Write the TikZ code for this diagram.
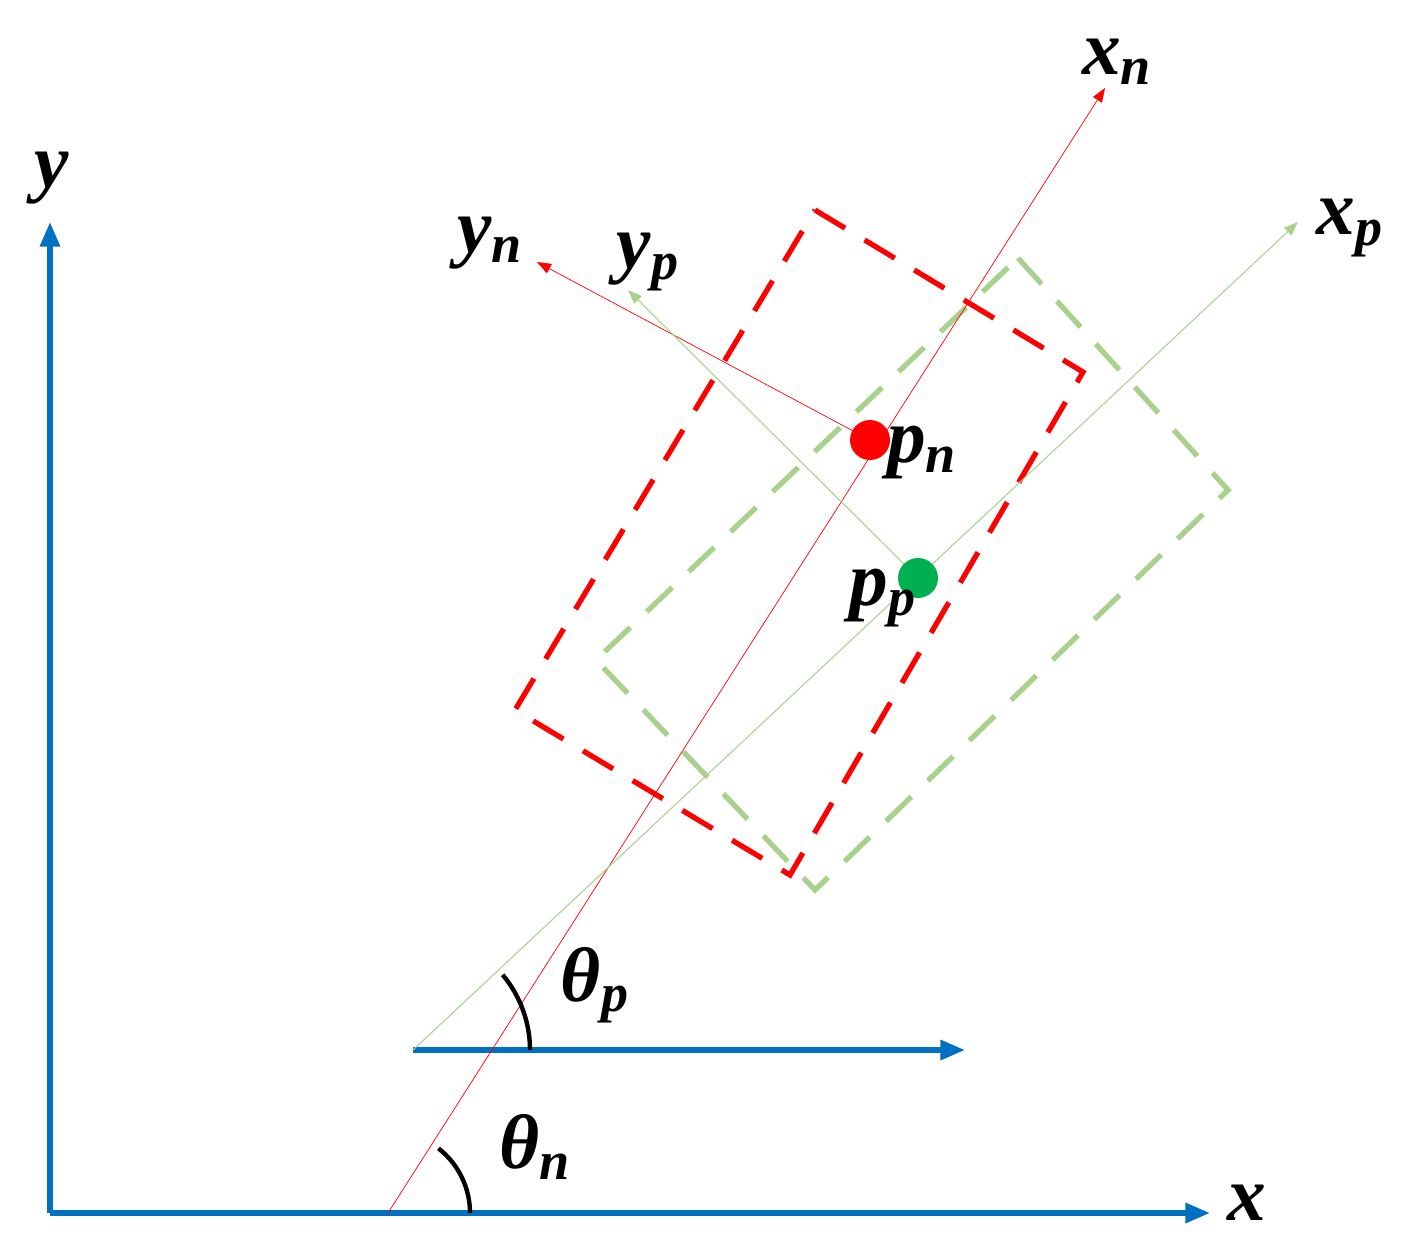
\documentclass[tikz,border=0pt]{standalone}
\usepackage{fontspec}
\setmainfont{Liberation Serif}
\usetikzlibrary{arrows.meta}
\definecolor{axblue}{RGB}{0,112,192}
\definecolor{rred}{RGB}{255,0,0}
\definecolor{lgreen}{RGB}{169,209,142}
\definecolor{dgreen}{RGB}{0,176,80}
\tikzset{
 ax/.style={axblue,line width=3pt,-{Triangle[length=14pt,width=11pt]}},
 thinred/.style={rred,line width=0.4pt,-{Triangle[length=8pt,width=6pt]}},
 thingreen/.style={lgreen,line width=0.6pt,-{Triangle[length=8pt,width=6pt]}},
 rbox/.style={rred,line width=3pt,dash pattern=on 20pt off 13pt},
 gbox/.style={lgreen,line width=3pt,dash pattern=on 20pt off 13pt},
 lab/.style={font=\fontsize{44}{48}\selectfont\bfseries\itshape,inner sep=0pt},
 arcst/.style={black,line width=2.5pt}
}
\begin{document}
\begin{tikzpicture}[x=0.02cm,y=-0.02cm]
\useasboundingbox (0,0) rectangle (1408,1252);
\coordinate (O) at (50,1213);
\coordinate (O2) at (413,1050);
\coordinate (On) at (388,1213);
\draw[ax] (O) -- (50,222);
\draw[ax] (O) -- (1210,1213);
\draw[ax] (O2) -- (965,1050);
\node[lab] (ylab) at (52,178) {y};
\node[lab] (xlab) at (1247,1203) {x};
% rectangles
\draw[rbox] (815,210) -- (1083,372) -- (790,875) -- (515,710) -- cycle;
\draw[gbox] (1018,258) -- (1228,490) -- (815,890) -- (596,660) -- cycle;
% points
\coordinate (pn) at (870,440);
\coordinate (pp) at (918,578);
\draw[thinred] (On) -- (1105,88) coordinate (xnend);
\draw[thinred] (pn) -- (537,262) coordinate (ynend);
\draw[thingreen] (O2) -- (1298,222) coordinate (xpend);
\draw[thingreen] (pp) -- (628,290) coordinate (ypend);
\fill[rred] (pn) circle (20);
\fill[dgreen] (pp) circle (20);
\node[lab] (pnl) at (922,452) {p\textsubscript{n}};
\node[lab] (ppl) at (883,598) {p\textsubscript{p}};
\node[lab] (xnl) at (1117,62) {x\textsubscript{n}};
\node[lab] (xpl) at (1350,228) {x\textsubscript{p}};
\node[lab] (ynl) at (490,243) {y\textsubscript{n}};
\node[lab] (ypl) at (648,262) {y\textsubscript{p}};
\node[lab] (tpl) at (595,985) {θ\textsubscript{p}};
\node[lab] (tnl) at (535,1147) {θ\textsubscript{n}};
% angle arcs
\draw[arcst] (530,1050) arc[start angle=0,end angle=-40,radius=117];
\draw[arcst] (470,1213) arc[start angle=0,end angle=-52,radius=82];
\end{tikzpicture}
\end{document}
